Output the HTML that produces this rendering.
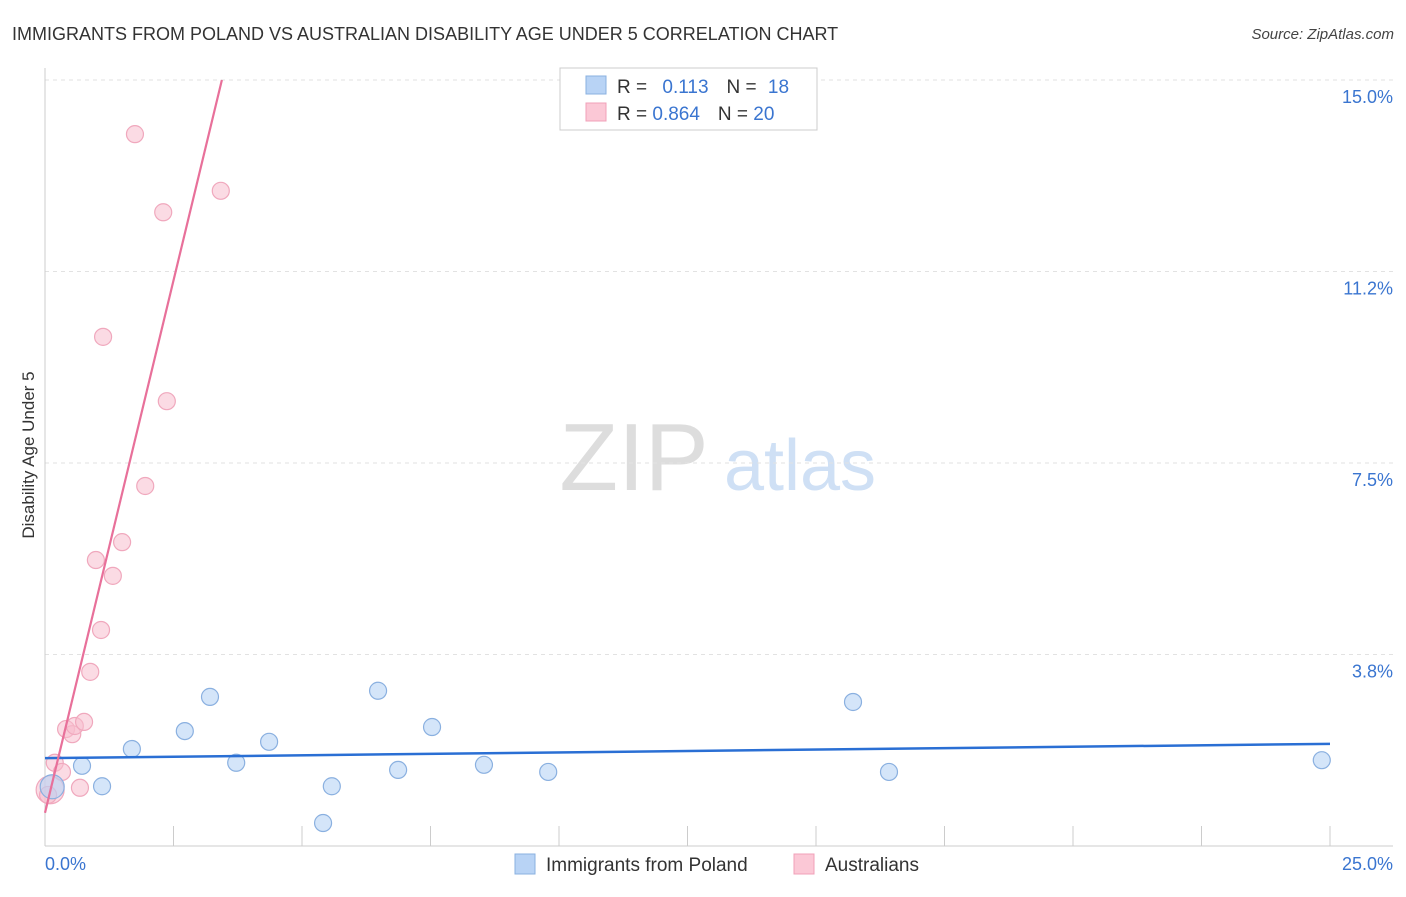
<!DOCTYPE html>
<html><head><meta charset="utf-8"><style>
body{margin:0;background:#fff;font-family:"Liberation Sans",sans-serif}
svg text{font-family:"Liberation Sans",sans-serif}
</style></head><body>
<svg width="1406" height="892">
<text x="12" y="40" font-size="18" fill="#333">IMMIGRANTS FROM POLAND VS AUSTRALIAN DISABILITY AGE UNDER 5 CORRELATION CHART</text>
<text x="1394" y="39" font-size="15" fill="#444" font-style="italic" text-anchor="end">Source: ZipAtlas.com</text>
<text x="0" y="0" transform="translate(34,455) rotate(-90)" font-size="17" fill="#333" text-anchor="middle">Disability Age Under 5</text>
<text x="634" y="490" font-size="96" fill="#ddd" font-family="Liberation Serif" text-anchor="middle">ZIP</text>
<text x="800" y="490" font-size="72" fill="#cfe0f5" text-anchor="middle">atlas</text>
<g id="grid"></g><g id="axes"></g><g id="marks"></g>
<g>
<rect x="560" y="68" width="257" height="62" fill="#fff" stroke="#ccc"/>
<rect x="586" y="76" width="20" height="18" fill="#b8d3f5" stroke="#8ab0e0"/>
<rect x="586" y="103" width="20" height="18" fill="#fbc8d6" stroke="#f0a0b8"/>
<text x="617" y="93" font-size="19" fill="#333">R = <tspan fill="#3a75d0" dx="10">0.113</tspan><tspan fill="#333" dx="18">N = </tspan><tspan fill="#3a75d0" dx="6">18</tspan></text>
<text x="617" y="120" font-size="19" fill="#333">R = <tspan fill="#3a75d0">0.864</tspan><tspan fill="#333" dx="18">N = </tspan><tspan fill="#3a75d0">20</tspan></text>
</g>
<g>
<rect x="515" y="854" width="20" height="20" fill="#b8d3f5" stroke="#8ab0e0"/>
<text x="546" y="871" font-size="19" fill="#333">Immigrants from Poland</text>
<rect x="794" y="854" width="20" height="20" fill="#fbc8d6" stroke="#f0a0b8"/>
<text x="825" y="871" font-size="19" fill="#333">Australians</text>
</g>
</svg>
<script>
const yTicks=[3.75,7.5,11.25,15];
const yTickLabels=["3.8%","7.5%","11.2%","15.0%"];
const xTickVals=[0,2.5,5,7.5,10,12.5,15,17.5,20,22.5,25];
const polandX=[0.14,0.72,1.11,1.69,2.72,3.21,3.72,4.36,5.41,5.58,6.48,6.87,7.53,8.54,9.79,15.72,16.42,24.84];
const polandY=[1.16,1.57,1.17,1.90,2.25,2.92,1.63,2.04,0.45,1.17,3.04,1.49,2.33,1.59,1.45,2.82,1.45,1.68];
const ausX=[0.10,0.06,0.19,0.33,0.41,0.53,0.58,0.76,0.68,0.88,1.09,0.99,1.32,1.50,1.13,1.95,2.37,2.30,1.75,3.42];
const ausY=[1.10,1.00,1.63,1.45,2.29,2.19,2.35,2.43,1.14,3.41,4.23,5.60,5.29,5.95,9.97,7.05,8.71,12.41,13.94,12.83];
const polandTrend=[1.72,2.0];
const ausTrend=[0.65,4.17];
const sx=v=>45+v/25*1285, sy=v=>846-v/15*766;
const NS="http://www.w3.org/2000/svg";
function mk(p,t,a){const e=document.createElementNS(NS,t);for(const k in a)e.setAttribute(k,a[k]);document.getElementById(p).appendChild(e);return e;}
yTicks.forEach((v,i)=>{
 const l=mk('grid','line',{x1:45,x2:1393,y1:sy(v),y2:sy(v),stroke:'#e2e2e2','stroke-dasharray':'4,4'});
 
 
 const t=mk('grid','text',{x:1393,y:sy(v)+23,'font-size':18,fill:'#3a75d0','text-anchor':'end'});t.textContent=yTickLabels[i];
 
 
});
mk('axes','line',{x1:45,x2:45,y1:68,y2:846,stroke:'#ccc'});
mk('axes','line',{x1:45,x2:1393,y1:846,y2:846,stroke:'#ccc'});
xTickVals.forEach(v=>{const l=mk('axes','line',{x1:sx(v),x2:sx(v),y1:826,y2:846,stroke:'#ccc'});
 
 });
let t0=mk('axes','text',{x:45,y:870,'font-size':18,fill:'#3a75d0'});t0.textContent="0.0%";


let t1=mk('axes','text',{x:1393,y:870,'font-size':18,fill:'#3a75d0','text-anchor':'end'});t1.textContent="25.0%";


ausX.forEach((x,i)=>{const c=mk('marks','circle',{cx:sx(x),cy:sy(ausY[i]),r:i==0?14:8.5,fill:'rgba(248,190,206,0.55)',stroke:'#f0a8bd','stroke-width':1.2});
 
 });
polandX.forEach((x,i)=>{const c=mk('marks','circle',{cx:sx(x),cy:sy(polandY[i]),r:i==0?12:8.5,fill:'rgba(184,211,245,0.6)',stroke:'#8ab0e0','stroke-width':1.2});
 
 });
const bl=mk('marks','line',{x1:sx(0),y1:sy(polandTrend[0]),x2:sx(25),y2:sy(polandTrend[1]),stroke:'#2a6fd4','stroke-width':2.5});


const xe=(15-ausTrend[0])/ausTrend[1];
const pl=mk('marks','line',{x1:sx(0),y1:sy(ausTrend[0]),x2:sx(xe),y2:sy(15),stroke:'#e8709a','stroke-width':2.2});


</script>
</body></html>
